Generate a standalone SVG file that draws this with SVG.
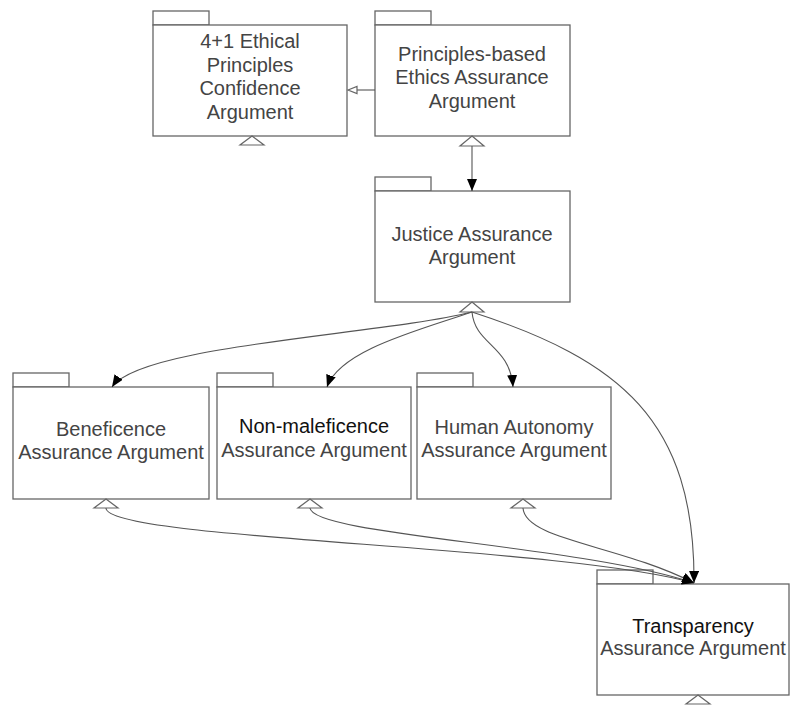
<svg xmlns="http://www.w3.org/2000/svg" width="790" height="705" viewBox="0 0 790 705">
<defs>
<style>
.box{fill:#fff;stroke:#666;stroke-width:1.3}
.tri{fill:#fff;stroke:#666;stroke-width:1.2}
.t{font-family:"Liberation Sans",Arial,sans-serif;font-size:20px;fill:#444;text-anchor:middle}
.dk{fill:#111}
.c{fill:none;stroke:#555;stroke-width:1.1}
</style>
<marker id="ah" markerUnits="userSpaceOnUse" markerWidth="13" markerHeight="10" refX="12" refY="5" orient="auto">
<path d="M0,0 L12,5 L0,10 z" fill="#000"/>
</marker>
</defs>
<rect width="790" height="705" fill="#fff"/>

<g id="ethical-confidence">
<rect class="box" x="153" y="11" width="56" height="14"/>
<rect class="box" x="153" y="25" width="194" height="111"/>
<text class="t" x="250" y="48">4+1 Ethical</text>
<text class="t" x="250" y="72">Principles</text>
<text class="t" x="250" y="95">Confidence</text>
<text class="t" x="250" y="119">Argument</text>
<polygon class="tri" points="252,136 264,145 240,145"/>
</g>

<g id="principles-based">
<rect class="box" x="375" y="11" width="56" height="14"/>
<rect class="box" x="375" y="25" width="195" height="111"/>
<text class="t" x="472" y="61">Principles-based</text>
<text class="t" x="472" y="84">Ethics Assurance</text>
<text class="t" x="472" y="108">Argument</text>
<polygon class="tri" points="472,136 484,146 460,146"/>
</g>

<g id="justice">
<rect class="box" x="375" y="177" width="56" height="14"/>
<rect class="box" x="375" y="191" width="195" height="111"/>
<text class="t" x="472" y="241">Justice Assurance</text>
<text class="t" x="472" y="264">Argument</text>
<polygon class="tri" points="472,302 484,312 460,312"/>
</g>

<g id="beneficence">
<rect class="box" x="13" y="373" width="56" height="14"/>
<rect class="box" x="13" y="387" width="196" height="112"/>
<text class="t" x="111" y="436">Beneficence</text>
<text class="t" x="111" y="459">Assurance Argument</text>
<polygon class="tri" points="106,499 118,508 94,508"/>
</g>

<g id="non-maleficence">
<rect class="box" x="217" y="373" width="56" height="14"/>
<rect class="box" x="217" y="387" width="194" height="112"/>
<text class="t dk" x="314" y="433">Non-maleficence</text>
<text class="t" x="314" y="457">Assurance Argument</text>
<polygon class="tri" points="310,499 322,508 298,508"/>
</g>

<g id="human-autonomy">
<rect class="box" x="417" y="373" width="56" height="14"/>
<rect class="box" x="417" y="387" width="194" height="112"/>
<text class="t" x="514" y="434">Human Autonomy</text>
<text class="t" x="514" y="457">Assurance Argument</text>
<polygon class="tri" points="523,499 535,508 511,508"/>
</g>

<g id="transparency">
<rect class="box" x="597" y="570" width="56" height="14"/>
<rect class="box" x="597" y="584" width="192" height="111"/>
<text class="t dk" x="693" y="633">Transparency</text>
<text class="t" x="693" y="655">Assurance Argument</text>
<polygon class="tri" points="698,695 710,704 686,704"/>
</g>

<g id="connectors">
<line class="c" x1="375" y1="90" x2="357" y2="90"/>
<polygon class="tri" points="348,90 357,86.5 357,93.5"/>
<path class="c" d="M472,146 L472,191" marker-end="url(#ah)"/>
<path class="c" d="M472,312 C380,335 140,345 112,387" marker-end="url(#ah)"/>
<path class="c" d="M472,312 C420,330 340,350 327,387" marker-end="url(#ah)"/>
<path class="c" d="M472,312 C475,345 510,345 513,387" marker-end="url(#ah)"/>
<path class="c" d="M472,312 C620,360 695,420 694,583" marker-end="url(#ah)"/>
<path class="c" d="M106,508 C106,540 560,545 694,583" marker-end="url(#ah)"/>
<path class="c" d="M310,508 C312,535 580,545 694,583" marker-end="url(#ah)"/>
<path class="c" d="M523,508 C525,540 620,545 694,583" marker-end="url(#ah)"/>
</g>
</svg>
